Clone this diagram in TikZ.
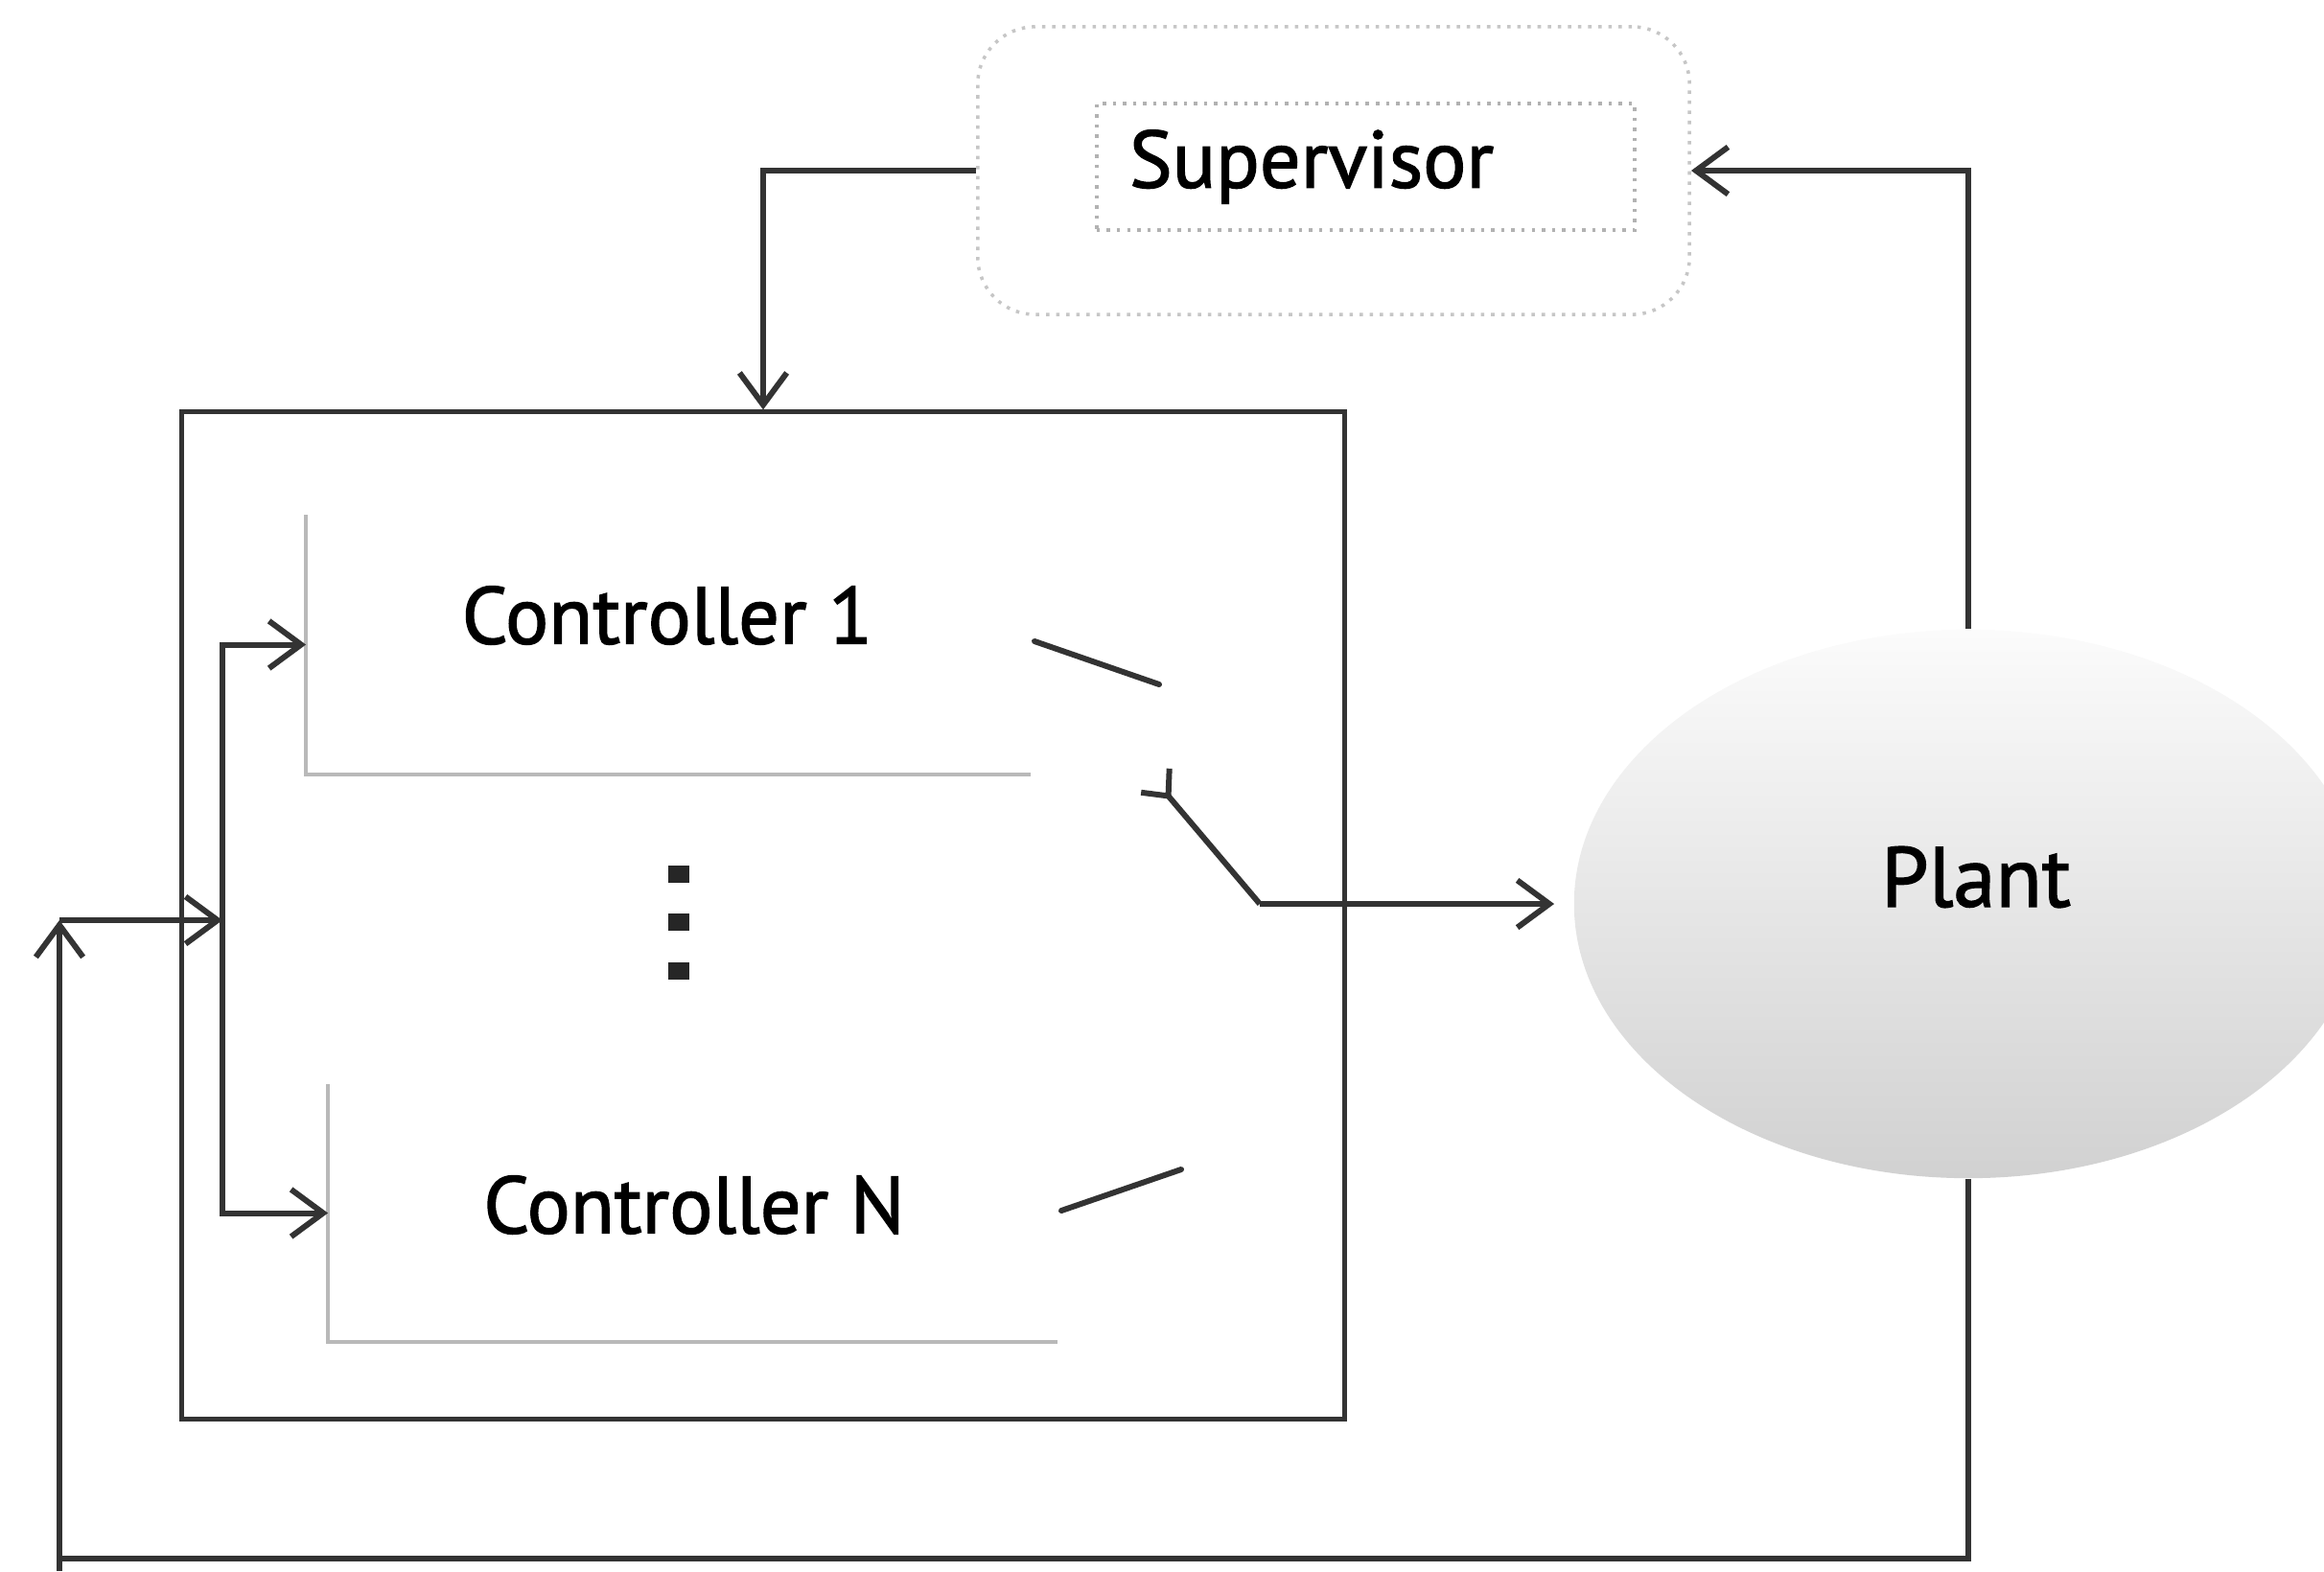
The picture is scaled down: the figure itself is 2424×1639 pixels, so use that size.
\documentclass[tikz,border=0pt]{standalone}
\usepackage{fontspec}
\setmainfont{PT Sans}
\newfontfamily\lblfont{PT Sans}[FakeBold=1.6]
\usetikzlibrary{arrows.meta,shapes.geometric}
\begin{document}
\begin{tikzpicture}[x=0.01cm,y=-0.01cm,
  conn/.style={draw=black!80, line width=1.7pt, line join=miter},
  arr/.style={conn, -{Straight Barb[length=9.5pt,width=14pt,line width=1.7pt]}},
  revtip/.style={conn, -{Straight Barb[reversed,length=6pt,width=11pt,line width=1.7pt]}},
  lbl/.style={font=\lblfont\fontsize{24}{28}\selectfont, text=black, inner sep=0pt},
  ctrlbox/.style={draw=none, inner sep=0pt},
  ctrledge/.style={draw=gray!55, line width=1pt},
  swline/.style={draw=black!80, line width=1.7pt, line cap=round}]
\useasboundingbox (0,0) rectangle (2424,1639);
\clip (0,0) rectangle (2424,1639);

% Plant
\node[ellipse, draw=none, minimum width=8.22cm, minimum height=5.72cm,
  top color=gray!3, middle color=gray!25, bottom color=gray!36] (plant) at (2053,943) {};
\node[lbl, scale=1.05] (plantlab) at (2061,915) {Plant};

% Supervisor
\node[draw=gray!45, dotted, line width=1pt, rounded corners=0.6cm,
  minimum width=7.42cm, minimum height=3.0cm, fill=white] (supout) at (1391,178) {};
\node[draw=gray!60, dotted, line width=1pt, minimum height=1.32cm,
  text width=4.93cm, inner xsep=0.34cm, inner ysep=0pt, align=left,
  font=\lblfont\fontsize{24}{28}\selectfont] (sup) at (1424.5,174) {Supervisor};

% Controller bank
\node[draw=black!80, line width=1.3pt, minimum width=12.12cm, minimum height=10.5cm] (bank) at (796,955) {};
\node[ctrlbox, minimum width=7.54cm, minimum height=2.69cm] (c1) at (697,672.5) {};
\node[ctrlbox, minimum width=7.59cm, minimum height=2.67cm] (cn) at (722.5,1265.5) {};
\draw[ctrledge] (c1.north west) -- (c1.south west) -- (c1.south east);
\draw[ctrledge] (cn.north west) -- (cn.south west) -- (cn.south east);
\node[lbl] (c1lab) at (696,642) {Controller 1};
\node[lbl] (cnlab) at (724,1257) {Controller N};

% vertical dots
\foreach \yy/\nm in {912/d1,962/d2,1013/d3}
  \node[fill=black!85, inner sep=0pt, minimum width=0.22cm, minimum height=0.18cm] (\nm) at (708,\yy) {};

% switch
\coordinate (sw1a) at (1079,669);
\coordinate (sw1b) at (1209,714);
\coordinate (swna) at (1107,1263);
\coordinate (swnb) at (1232,1220);
\coordinate (pivot) at (1314,943);
\coordinate (swtip) at (1203,812);
\draw[swline] (sw1a) -- (sw1b);
\draw[swline] (swna) -- (swnb);
\draw[revtip] (pivot) -- (swtip);
\draw[arr, shorten >=0.2cm] (pivot) -- (plant.west);

% supervisor links
\draw[arr] (supout.west) -| (bank.north);
\draw[arr] (plant.north) |- (supout.east);

% feedback loop
\coordinate (fbL) at (62,1626);
\coordinate (fbB) at (62,1639);
\coordinate (fbT) at (62,960);
\coordinate (dist) at (232,960);
\draw[arr] (plant.south) |- (fbL) -- (fbT);
\draw[conn] (fbL) -- (fbB);
\draw[arr] (fbT) -- (dist);
\draw[arr] (dist) |- (c1.west);
\draw[arr] (dist) |- (cn.west);
\end{tikzpicture}
\end{document}
